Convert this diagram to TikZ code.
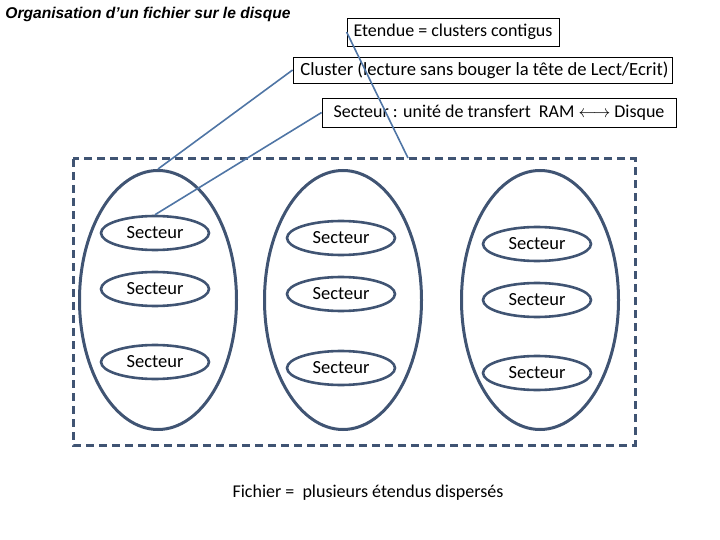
\documentclass[tikz,border=0pt]{standalone}
\usepackage{fontspec}
\setmainfont{Carlito}
\newfontfamily\titlefont{Liberation Sans}
\usetikzlibrary{shapes.geometric}
\definecolor{contour}{RGB}{64,84,115}
\definecolor{lien}{RGB}{79,117,165}
\begin{document}
\begin{tikzpicture}[x=1pt,y=-1pt,
    cluster/.style={ellipse, draw=contour, line width=3pt, minimum width=157pt, minimum height=259pt},
    secteur/.style={ellipse, draw=contour, line width=2.6pt, minimum width=108pt, minimum height=34pt, inner sep=0pt, font=\fontsize{18.5}{20}\selectfont},
    boite/.style={draw=black, line width=0.8pt, inner sep=0pt, font=\fontsize{18}{20}\selectfont},
    lien/.style={draw=lien, line width=1.6pt}]
    \useasboundingbox (0,0) rectangle (720,540);
    \node[font=\titlefont\bfseries\itshape\fontsize{15.6}{18}\selectfont] (titre) at (148,14) {Organisation d’un fichier sur le disque};
    \node[boite, minimum width=212pt, minimum height=28pt] (etendue) at (453,32) {Etendue = clusters contigus};
    \node[boite, minimum width=379pt, minimum height=26pt, font=\fontsize{18.6}{20}\selectfont] (clust) at (482.5,70) {\hspace{4pt}Cluster (lecture sans bouger la tête de Lect/Ecrit)};
    \node[boite, minimum width=354pt, minimum height=29pt] (sect) at (499,112.5) {Secteur : unité de transfert\ \ RAM $\longleftrightarrow$ Disque};
    \draw[contour, line width=3pt, dash pattern=on 8pt off 5pt] (73,159) rectangle (635,445);
    \coordinate (bord) at (408,158);
    \node[cluster] (c1) at (158,300) {};
    \node[cluster] (c2) at (343,300) {};
    \node[cluster] (c3) at (540,300) {};
    \node[secteur] (s11) at (155,233) {Secteur};
    \node[secteur] (s12) at (155,289) {Secteur};
    \node[secteur] (s13) at (155,362) {Secteur};
    \node[secteur] (s21) at (341,238) {Secteur};
    \node[secteur] (s22) at (341,294) {Secteur};
    \node[secteur] (s23) at (341,368) {Secteur};
    \node[secteur] (s31) at (537,244) {Secteur};
    \node[secteur] (s32) at (537,300) {Secteur};
    \node[secteur] (s33) at (537,373) {Secteur};
    \draw[lien] (etendue.west) -- (bord);
    \draw[lien] (clust.west) -- (c1.north);
    \draw[lien] (sect.west) -- (s11.north);
    \node[font=\fontsize{18}{20}\selectfont] (fichier) at (368,493) {Fichier =\ \ plusieurs étendus dispersés};
\end{tikzpicture}
\end{document}
